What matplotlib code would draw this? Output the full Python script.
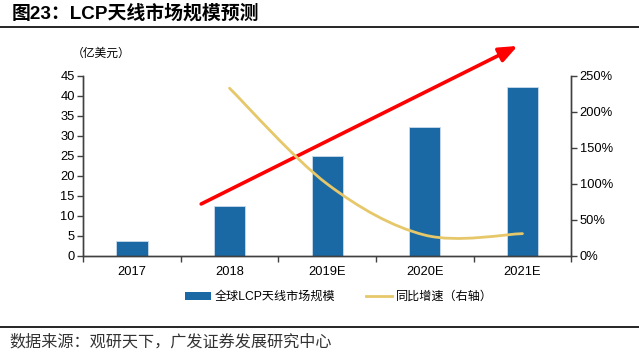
import matplotlib
matplotlib.use("Agg")
import matplotlib.pyplot as plt
from matplotlib.path import Path
from matplotlib.patches import PathPatch, Patch
from matplotlib.lines import Line2D

plt.rcParams["font.family"] = ["Liberation Sans", "Noto Sans CJK SC"]

years = ["2017", "2018", "2019E", "2020E", "2021E"]
market_size = [3.75, 12.5, 25.0, 32.3, 42.3]          # 亿美元
yoy_growth = [None, 233, 100, 29, 31]                  # %

BAR_COLOR = "#1a69a4"
LINE_COLOR = "#e6c76a"
AXIS_COLOR = "#404040"


def smooth_path(xs, ys):
    # excel-style smoothed line: cubic bezier, catmull-rom control points
    pts = list(zip(xs, ys))
    verts = [pts[0]]
    codes = [Path.MOVETO]
    n = len(pts)
    for i in range(n - 1):
        p0 = pts[i - 1] if i > 0 else pts[i]
        p1 = pts[i]
        p2 = pts[i + 1]
        p3 = pts[i + 2] if i + 2 < n else pts[i + 1]
        c1 = (p1[0] + (p2[0] - p0[0]) / 6, p1[1] + (p2[1] - p0[1]) / 6)
        c2 = (p2[0] - (p3[0] - p1[0]) / 6, p2[1] - (p3[1] - p1[1]) / 6)
        verts += [c1, c2, p2]
        codes += [Path.CURVE4] * 3
    return Path(verts, codes)


fig = plt.figure(figsize=(6.39, 3.55), dpi=100)
ax = fig.add_axes([0.130, 0.279, 0.764, 0.507])
ax2 = ax.twinx()

x = list(range(len(years)))
ax.bar(x, market_size, width=0.32, color=BAR_COLOR, edgecolor="#c9dcec",
       linewidth=0.6, zorder=2)

gx = [i for i, g in zip(x, yoy_growth) if g is not None]
gy = [g for g in yoy_growth if g is not None]
ax2.add_patch(PathPatch(smooth_path(gx, gy), fill=False, edgecolor=LINE_COLOR,
                        linewidth=2, capstyle="round", zorder=3))

ax.set_xlim(-0.5, len(years) - 0.5)
ax.set_ylim(0, 45)
ax.set_yticks(range(0, 46, 5))
ax2.set_ylim(0, 250)
ax2.set_yticks(range(0, 251, 50))
ax2.set_yticklabels([f"{v}%" for v in range(0, 251, 50)])

# category labels centred, tick marks between categories
ax.set_xticks([i - 0.5 for i in range(len(years) + 1)])
ax.set_xticklabels([])
ax.set_xticks(x, minor=True)
ax.set_xticklabels(years, minor=True)
ax.tick_params(axis="x", which="minor", length=0, pad=7)
ax.tick_params(axis="x", which="major", length=4, direction="out",
               color=AXIS_COLOR, width=1)

for a in (ax, ax2):
    a.spines["top"].set_visible(False)
    for s in ("left", "right", "bottom"):
        a.spines[s].set_color(AXIS_COLOR)
        a.spines[s].set_linewidth(1)
    a.tick_params(axis="y", labelsize=9.3, length=4, width=1,
                  color=AXIS_COLOR, pad=2)
ax.tick_params(axis="x", which="both", labelsize=9.3)
ax.set_zorder(ax2.get_zorder() - 1)
ax.patch.set_visible(True)
ax2.patch.set_visible(False)

# red trend arrow
ax.annotate("", xy=(3.95, 52.5), xytext=(0.71, 13), xycoords="data",
            annotation_clip=False,
            arrowprops=dict(arrowstyle="-|>,head_length=1.1,head_width=0.45",
                            color="#ff0000", lw=2.6, shrinkA=0, shrinkB=0))

fig.text(0.113, 0.851, "（亿美元）", fontsize=8.5, va="center", ha="left",
         family=["Noto Sans CJK SC"])

handles = [Patch(facecolor=BAR_COLOR), Line2D([], [], color=LINE_COLOR, lw=2)]
fig.legend(handles, ["全球LCP天线市场规模", "同比增速（右轴）"],
           loc="center", bbox_to_anchor=(0.53, 0.163), ncol=2, frameon=False,
           fontsize=8.7, handlelength=2.2, handleheight=0.6, columnspacing=2.5,
           handletextpad=0.3)

fig.text(0.018, 0.962, "图23：LCP天线市场规模预测", fontsize=13.6,
         fontweight="bold", va="center", ha="left")
fig.add_artist(Line2D([0, 1], [0.924, 0.924], color="black", lw=1.2))
fig.add_artist(Line2D([0, 1], [0.079, 0.079], color="black", lw=1.2))
fig.text(0.014, 0.038, "数据来源：观研天下，广发证券发展研究中心", fontsize=11.6,
         va="center", ha="left", color="#333333")

fig.savefig("out.png", dpi=100)
